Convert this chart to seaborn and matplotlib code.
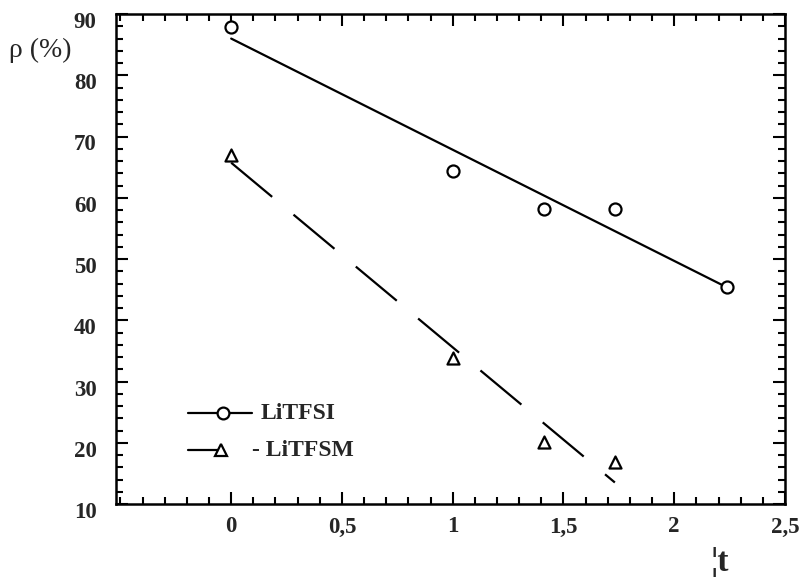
import matplotlib
matplotlib.use("Agg")
import matplotlib.pyplot as plt
import matplotlib.transforms as mtransforms
from matplotlib.lines import Line2D
from matplotlib.ticker import FixedLocator, MultipleLocator
import numpy as np
import pandas as pd
import seaborn as sns

# Measured values: square root of time vs. rho (%)
sqrt_t_litfsi = [0.0, 1.0, 1.414, 1.732, 2.236]
rho_litfsi = [87.9, 64.3, 58.2, 58.2, 45.5]
sqrt_t_litfsm = [0.0, 1.0, 1.414, 1.732]
rho_litfsm = [67.0, 33.8, 20.2, 16.9]

x_ticks = [0.0, 0.5, 1.0, 1.5, 2.0, 2.5]
x_tick_labels = ["0", "0,5", "1", "1,5", "2", "2,5"]
y_ticks = [10, 20, 30, 40, 50, 60, 70, 80, 90]
y_tick_labels = ["10", "20", "30", "40", "50", "60", "70", "80", "90"]
series_names = ["LiTFSI", "- LiTFSM"]

df_fsi = pd.DataFrame({"x": sqrt_t_litfsi, "rho": rho_litfsi})
df_fsm = pd.DataFrame({"x": sqrt_t_litfsm, "rho": rho_litfsm})

sns.set_style("ticks")
plt.rcParams["font.family"] = ["Liberation Serif", "DejaVu Serif"]

fig = plt.figure(figsize=(8.03, 5.77), dpi=100)
ax = fig.add_axes([116 / 803, 1 - 504 / 577, 669 / 803, 490 / 577])

lw = 1.6
dash = (0, (24, 12.5))

# Least-squares fit lines
sns.regplot(data=df_fsi, x="x", y="rho", ax=ax, scatter=False, ci=None,
            truncate=True, color="black", line_kws={"lw": lw})
sns.regplot(data=df_fsm, x="x", y="rho", ax=ax, scatter=False, ci=None,
            truncate=True, color="black", line_kws={"lw": lw, "ls": dash})

# Open markers for the measurements
sns.scatterplot(data=df_fsi, x="x", y="rho", ax=ax, marker="o", s=75,
                facecolor="white", edgecolor="black", linewidth=1.6, zorder=3)
sns.scatterplot(data=df_fsm, x="x", y="rho", ax=ax, marker="^", s=75,
                facecolor="white", edgecolor="black", linewidth=1.6, zorder=3)

ax.set_xlim(-0.52, 2.5)
ax.set_ylim(10, 90)
ax.set_xlabel("")
ax.set_ylabel("")

ax.xaxis.set_major_locator(FixedLocator(x_ticks))
ax.xaxis.set_minor_locator(MultipleLocator(0.1))
ax.yaxis.set_major_locator(FixedLocator(y_ticks))
ax.yaxis.set_minor_locator(MultipleLocator(2))
ax.set_xticklabels(x_tick_labels)
ax.set_yticklabels(y_tick_labels)

for side in ["top", "right", "bottom", "left"]:
    ax.spines[side].set_visible(True)
    ax.spines[side].set_linewidth(1.8)
    ax.spines[side].set_color("black")

ax.tick_params(which="both", direction="in", top=True, right=True,
               width=1.5, color="black")
ax.tick_params(which="major", length=8.5)
ax.tick_params(which="minor", length=5)
ax.tick_params(axis="x", which="major", pad=9, labelsize=16.5)
ax.tick_params(axis="y", which="major", pad=14, labelsize=16.5)
for lab in ax.get_xticklabels() + ax.get_yticklabels():
    lab.set_fontweight("bold")

# y tick labels sit slightly below their ticks
shift = mtransforms.ScaledTranslation(0, -6 / 100, fig.dpi_scale_trans)
for lab in ax.get_yticklabels():
    lab.set_transform(lab.get_transform() + shift)

# Legend drawn in axes coordinates
ax.add_line(Line2D([0.1076, 0.2033], [0.1857, 0.1857], transform=ax.transAxes,
                   color="black", lw=lw))
ax.add_line(Line2D([0.16], [0.1857], transform=ax.transAxes, marker="o",
                   markersize=8.5, markerfacecolor="white",
                   markeredgecolor="black", markeredgewidth=1.6, ls="none"))
ax.text(0.2167, 0.1857, series_names[0], transform=ax.transAxes,
        fontsize=17, fontweight="bold", va="center", ha="left")

ax.add_line(Line2D([0.1076, 0.157], [0.110, 0.110], transform=ax.transAxes,
                   color="black", lw=lw))
ax.add_line(Line2D([0.157], [0.110], transform=ax.transAxes, marker="^",
                   markersize=8.5, markerfacecolor="white",
                   markeredgecolor="black", markeredgewidth=1.6, ls="none"))
ax.text(0.2033, 0.110, series_names[1], transform=ax.transAxes,
        fontsize=17, fontweight="bold", va="center", ha="left")

# Axis titles
fig.text(40 / 803, 1 - 50 / 577, "ρ (%)", fontsize=20, ha="center", va="center")
fig.text(720 / 803, 1 - 563 / 577, "¦t", fontsize=24, fontweight="bold",
         ha="center", va="center")

fig.savefig("out.png", dpi=100, facecolor="white")
